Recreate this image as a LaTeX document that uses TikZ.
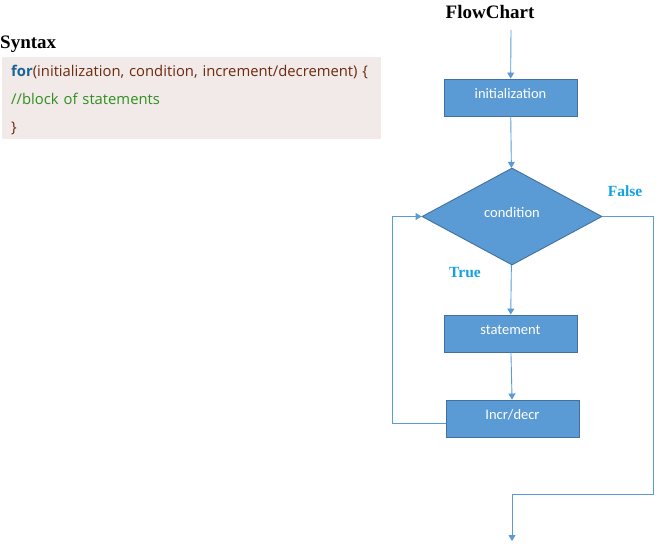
\documentclass[tikz,border=0pt]{standalone}
\usepackage{fontspec}
\setmainfont{Liberation Serif}
\newfontfamily\boxfont{Carlito}
\newfontfamily\codefont{Open Sans}
\usetikzlibrary{arrows.meta,shapes}
\definecolor{boxblue}{HTML}{5B9BD5}
\definecolor{boxedge}{HTML}{41719C}
\definecolor{tfblue}{HTML}{12A2E2}
\definecolor{codebg}{HTML}{F2E9E9}
\definecolor{kwblue}{HTML}{1B6496}
\definecolor{codebrown}{HTML}{6B2A0E}
\definecolor{codegreen}{HTML}{2F8F1F}
\tikzset{
  stepbox/.style={draw=boxedge, fill=boxblue, text=white, line width=0.9pt,
    minimum width=133pt, minimum height=37pt, inner sep=0pt,
    font=\boxfont\fontsize{14.5}{17}\selectfont, text height=11pt, text depth=10pt},
  decision/.style={stepbox, diamond, minimum width=180pt, minimum height=97pt},
  flow/.style={draw=boxblue, line width=0.9pt, -{Triangle[width=7pt,length=6pt]}},
  heading/.style={font=\bfseries\fontsize{19}{22}\selectfont},
  tflabel/.style={text=tfblue, font=\bfseries\fontsize{15.5}{18}\selectfont},
}

\begin{document}
\begin{tikzpicture}[x=1pt, y=-1pt]
\useasboundingbox (0,0) rectangle (661,549);
% syntax part
\node [heading, anchor=west, inner sep=0pt] (syntax) at (0,44) {Syntax};
\node [anchor=north west, fill=codebg, minimum width=379pt, minimum height=82pt,
  inner xsep=9pt, inner ysep=0pt, text width=361pt, align=left, text=codebrown,
  font=\codefont\fontsize{14.8}{28}\selectfont] (code) at (2,57)
  {\rule{0pt}{15pt}{\bfseries\color{kwblue}for}(initialization, condition, increment/decrement)~\{\\
   {\color{codegreen}//block of statements}\\
   \}};
% flowchart
\node [heading] (title) at (490,12) {FlowChart};
\coordinate (start) at (511,30);
\node [stepbox] (init) at (510.5,97.5) {initialization};
\node [decision] (cond) at (512,216.5) {condition};
\node [stepbox] (stmt) at (510.5,333.5) {statement};
\node [stepbox] (incr) at (512.5,418.5) {Incr/decr};
\coordinate (exit) at (512,541);
\node [tflabel] (false) at (625,191) {False};
\node [tflabel] (true) at (465,273) {True};

\draw [flow] (start) -- (init);
\draw [flow] (init) -- (cond);
\draw [flow] (cond) -- (stmt);
\draw [flow] (stmt) -- (incr);
\draw [flow] ([yshift=-5pt]incr.west) -- ++(-53,0) |- (cond.west);
\draw [flow] (cond.east) -- ++(51,0) -- ++(0,278) -| (exit);
\end{tikzpicture}
\end{document}
